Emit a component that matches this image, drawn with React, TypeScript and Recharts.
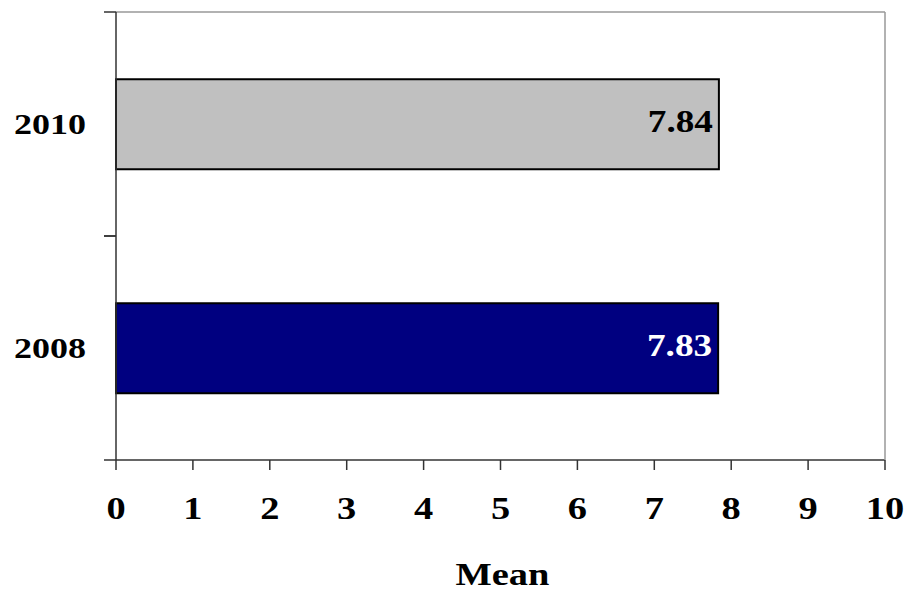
import React from "react";
import {
  BarChart,
  Bar,
  XAxis,
  YAxis,
  LabelList,
  Cell,
} from "recharts";

const years = ["2010", "2008"];
const means = [7.84, 7.83];
const xTicks = [0, 1, 2, 3, 4, 5, 6, 7, 8, 9, 10];

const barColors = ["#C0C0C0", "#000080"];
const labelColors = ["#000000", "#FFFFFF"];

const data = years.map((year, i) => ({ year, mean: means[i] }));

const W = 906;
const H = 592;
const M = { top: 11, right: 20, left: 0, bottom: 0 };
const Y_AXIS_W = 116;
const X_AXIS_H = 132;
const PLOT_H = H - M.top - M.bottom - X_AXIS_H - 1;
const BAND = PLOT_H / years.length;

const FONT = "'Liberation Serif', 'Times New Roman', serif";
const STRETCH = 1.2;
const AXIS_COLOR = "#333333";
const FRAME_COLOR = "#999999";

const YTick = (props: any) => {
  const { x, y, payload } = props;
  const axisX = x + 28;
  return (
    <g>
      <line x1={axisX - 12} x2={axisX} y1={y - BAND / 2} y2={y - BAND / 2} stroke={AXIS_COLOR} strokeWidth={1.5} />
      <line x1={axisX - 12} x2={axisX} y1={y + BAND / 2} y2={y + BAND / 2} stroke={AXIS_COLOR} strokeWidth={1.5} />
      <text
        transform={`translate(${x - 2},${y + 10}) scale(${STRETCH},1)`}
        textAnchor="end"
        fontFamily={FONT}
        fontWeight="bold"
        fontSize={30}
        fill="#000"
      >
        {payload.value}
      </text>
    </g>
  );
};

const XTick = (props: any) => {
  const { x, y, payload } = props;
  return (
    <text
      transform={`translate(${x},${y + 23}) scale(${STRETCH},1)`}
      textAnchor="middle"
      fontFamily={FONT}
      fontWeight="bold"
      fontSize={32}
      fill="#000"
    >
      {payload.value}
    </text>
  );
};

const ValueLabel = (props: any) => {
  const { x, y, width, height, value, index } = props;
  return (
    <text
      transform={`translate(${x + width - 6},${y + height / 2 + 8}) scale(${STRETCH},1)`}
      textAnchor="end"
      fontFamily={FONT}
      fontWeight="bold"
      fontSize={31}
      fill={labelColors[index]}
    >
      {value.toFixed(2)}
    </text>
  );
};

const MeanLabel = (props: any) => {
  const { viewBox } = props;
  const cx = viewBox.x + viewBox.width / 2 + 2;
  return (
    <text
      transform={`translate(${cx},${viewBox.y + 125}) scale(${STRETCH},1)`}
      textAnchor="middle"
      fontFamily={FONT}
      fontWeight="bold"
      fontSize={32}
      fill="#000"
    >
      Mean
    </text>
  );
};

export default function App() {
  return (
    <div style={{ position: "absolute", left: 0, top: 0, width: W, height: H, background: "#fff" }}>
      <BarChart width={W} height={H} data={data} layout="vertical" margin={M} barCategoryGap="30%">
        <XAxis
          type="number"
          domain={[0, 10]}
          ticks={xTicks}
          height={X_AXIS_H}
          axisLine={{ stroke: AXIS_COLOR, strokeWidth: 1.5 }}
          tickLine={{ stroke: AXIS_COLOR, strokeWidth: 1.5 }}
          tickSize={10}
          tickMargin={26}
          tick={<XTick />}
          interval={0}
          label={<MeanLabel />}
        />
        <XAxis
          xAxisId="top"
          type="number"
          orientation="top"
          domain={[0, 10]}
          height={1}
          tick={false}
          tickLine={false}
          axisLine={{ stroke: FRAME_COLOR, strokeWidth: 1.5 }}
        />
        <YAxis
          type="category"
          dataKey="year"
          width={Y_AXIS_W}
          axisLine={{ stroke: AXIS_COLOR, strokeWidth: 1.5 }}
          tickLine={false}
          tickSize={0}
          tickMargin={28}
          tick={<YTick />}
          interval={0}
        />
        <YAxis
          yAxisId="right"
          type="category"
          dataKey="year"
          orientation="right"
          width={1}
          tick={false}
          tickLine={false}
          axisLine={{ stroke: FRAME_COLOR, strokeWidth: 1.5 }}
        />
        <Bar dataKey="mean" stroke="#000" strokeWidth={2} isAnimationActive={false}>
          {data.map((d, i) => (
            <Cell key={d.year} fill={barColors[i]} />
          ))}
          <LabelList dataKey="mean" content={<ValueLabel />} />
        </Bar>
      </BarChart>
    </div>
  );
}
